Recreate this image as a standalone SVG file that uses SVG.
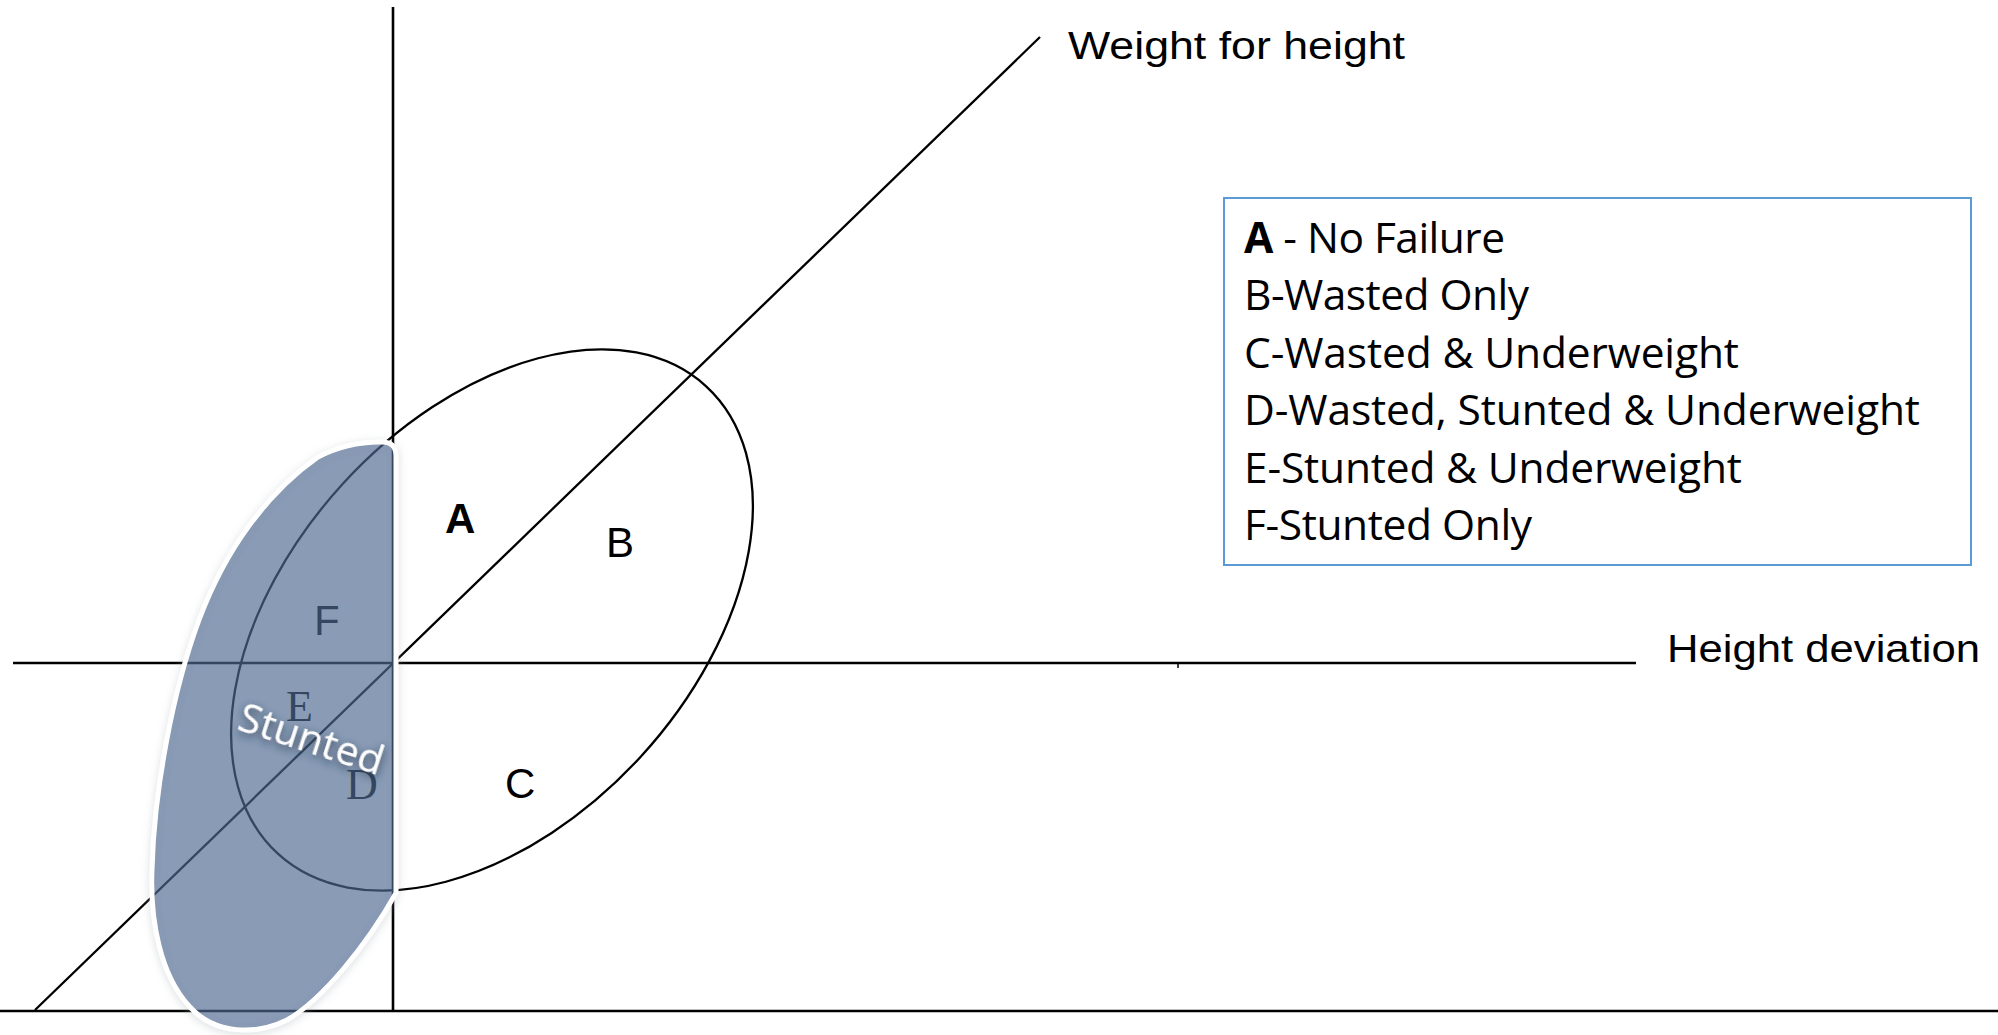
<svg xmlns="http://www.w3.org/2000/svg" width="1998" height="1035" viewBox="0 0 1998 1035">
  <style>
    .axis { stroke: #000; stroke-width: 2.6; fill: none; }
    .thin { stroke: #000; stroke-width: 2.3; fill: none; }
    .axlabel { font-family: "Liberation Sans", Arial, sans-serif; font-size: 38px; fill: #000; }
    .region { font-family: "Liberation Sans", Arial, sans-serif; font-size: 42px; fill: #000; }
    .region-serif { font-family: "Liberation Serif", "Times New Roman", serif; font-size: 44px; fill: #000; }
    .legend { font-family: "Open Sans", "Noto Sans", sans-serif; font-size: 42.5px; fill: #000; }
  </style>
  <defs>
    <filter id="blobShadow" x="-20%" y="-10%" width="140%" height="120%">
      <feGaussianBlur in="SourceAlpha" stdDeviation="4" result="b"/>
      <feOffset dx="0" dy="2" in="b" result="o"/>
      <feFlood flood-color="#9aa4ae" flood-opacity="0.4"/>
      <feComposite in2="o" operator="in" result="s"/>
      <feMerge><feMergeNode in="s"/><feMergeNode in="SourceGraphic"/></feMerge>
    </filter>
    <filter id="textShadow" x="-30%" y="-50%" width="160%" height="200%">
      <feGaussianBlur in="SourceAlpha" stdDeviation="4" result="b"/>
      <feOffset dx="1" dy="3" in="b" result="o"/>
      <feFlood flood-color="#1c2e44" flood-opacity="0.85"/>
      <feComposite in2="o" operator="in" result="s"/>
      <feMerge><feMergeNode in="s"/><feMergeNode in="SourceGraphic"/></feMerge>
    </filter>
  </defs>

  <rect x="0" y="0" width="1998" height="1035" fill="#fff"/>

  <g id="connectors">
    <line id="axis-vertical" class="axis" x1="393" y1="7" x2="393" y2="1011"/>
    <line id="axis-height" class="axis" x1="13" y1="663" x2="1636" y2="663"/>
    <line id="axis-bottom" class="axis" x1="0" y1="1011" x2="1998" y2="1011"/>
    <line id="axis-weight-for-height" class="thin" x1="35" y1="1010" x2="1040" y2="37"/>
    <line id="tick" stroke="#000" stroke-width="1.5" x1="1178" y1="663" x2="1178" y2="668"/>
  </g>

  <g id="ellipse-region">
    <ellipse class="thin" cx="492" cy="620" rx="317" ry="202" transform="rotate(-47.5 492 620)"/>
  </g>

  <g id="axis-labels">
    <text class="axlabel" x="1068" y="59" textLength="337" lengthAdjust="spacingAndGlyphs">Weight for height</text>
    <text class="axlabel" x="1667" y="662" textLength="313" lengthAdjust="spacingAndGlyphs">Height deviation</text>
  </g>

  <g id="region-labels">
    <text id="label-A" class="region" x="445" y="533" font-weight="bold">A</text>
    <text id="label-B" class="region" x="606" y="557">B</text>
    <text id="label-C" class="region" x="505" y="798">C</text>
    <text id="label-F" class="region" x="314" y="635">F</text>
    <text id="label-E" class="region-serif" x="286" y="721">E</text>
    <text id="label-D" class="region-serif" x="346" y="799">D</text>
  </g>

  <g id="stunted-blob">
    <path d="M 380,442 Q 396,441 396,456 L 396,893 C 367,945 322,1000 287,1020 C 257,1035 215,1035 190,1007 C 160,975 150,920 152,870 C 154,790 173,690 199,620 C 226,548 268,492 318,457 C 343,444 365,442 380,442 Z"
          fill="#33588A" fill-opacity="0.57" stroke="#ffffff" stroke-width="5" filter="url(#blobShadow)"/>
    <text x="311" y="753" text-anchor="middle" transform="rotate(18 311 740)"
          font-family="'Open Sans', 'Noto Sans', sans-serif" font-size="41" fill="#ffffff" filter="url(#textShadow)">Stunted</text>
  </g>

  <g id="legend">
    <rect x="1224" y="198" width="747" height="367" fill="#ffffff" stroke="#5B9BD5" stroke-width="2"/>
    <text class="legend" x="1244" y="253" textLength="261" lengthAdjust="spacing"><tspan font-weight="bold">A</tspan> - No Failure</text>
    <text class="legend" x="1244" y="310" textLength="285" lengthAdjust="spacing">B-Wasted Only</text>
    <text class="legend" x="1244" y="368" textLength="495" lengthAdjust="spacing">C-Wasted &amp; Underweight</text>
    <text class="legend" x="1244" y="425" textLength="676" lengthAdjust="spacing">D-Wasted, Stunted &amp; Underweight</text>
    <text class="legend" x="1244" y="483" textLength="498" lengthAdjust="spacing">E-Stunted &amp; Underweight</text>
    <text class="legend" x="1244" y="540" textLength="288" lengthAdjust="spacing">F-Stunted Only</text>
  </g>
</svg>
